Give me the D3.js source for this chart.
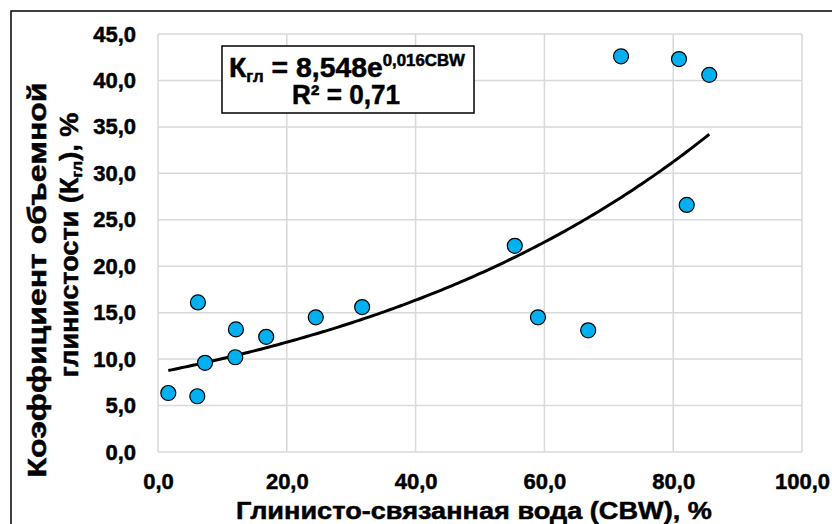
<!DOCTYPE html>
<html>
<head>
<meta charset="utf-8">
<script src="https://cdn.jsdelivr.net/npm/d3@7"></script>
<style>
  body { margin: 0; background: #fff; }
  text { font-family: "Liberation Sans", Arial, sans-serif; font-weight: bold; fill: #000;
         stroke: #000; stroke-width: 0.5px; }
</style>
</head>
<body>
<div id="chart"></div>
<script>
// data
var cbw  = [1.6, 6.2, 6.1, 7.3, 12.1, 12.0, 16.8, 24.5, 31.7, 55.4, 59.0, 66.8, 71.9, 80.9, 85.6, 82.1];
var kgl  = [6.35, 16.1, 6.0, 9.6, 13.2, 10.2, 12.4, 14.5, 15.6, 22.2, 14.5, 13.1, 42.6, 42.3, 40.6, 26.6];
var xTicks = [0, 20, 40, 60, 80, 100];
var yTicks = [0, 5, 10, 15, 20, 25, 30, 35, 40, 45];
// trendline from the equation on the chart
var fitA = 8.548, fitB = 0.0162;
var fitRange = [1.6, 85.6];

var W = 832, H = 524;
var margin = {left: 158, right: 30, top: 34, bottom: 72};

var svg = d3.select("#chart").append("svg")
    .attr("width", W).attr("height", H);

// stretch a text along its own direction so it spans "len" px
function fit_len(sel, len, base) {
  var w = sel.node().getBBox().width;
  sel.attr("transform", base + " scale(" + (len / w) + ",1)");
}

// outer frame (cut off on the right and bottom)
svg.append("rect")
  .attr("x", 11).attr("y", 11).attr("width", 1000).attr("height", 1000)
  .style("fill", "none").style("stroke", "#000").style("stroke-width", 1.5);

var x = d3.scaleLinear().domain([0, 100]).range([margin.left, W - margin.right]);
var y = d3.scaleLinear().domain([0, 45]).range([H - margin.bottom, margin.top]);

// grid
svg.selectAll(".gx").data(xTicks).enter().append("line").attr("class", "gx")
  .attr("x1", d => x(d)).attr("x2", d => x(d))
  .attr("y1", y(0)).attr("y2", y(45))
  .style("stroke", "#d9d9d9").style("stroke-width", 1.5);
svg.selectAll(".gy").data(yTicks).enter().append("line").attr("class", "gy")
  .attr("x1", x(0)).attr("x2", x(100))
  .attr("y1", d => y(d)).attr("y2", d => y(d))
  .style("stroke", "#d9d9d9").style("stroke-width", 1.5);

var fmt = d => d.toFixed(1).replace(".", ",");

// axes
var xAxis = d3.axisBottom(x).tickValues(xTicks).tickFormat(fmt).tickSize(0).tickPadding(21);
var gx = svg.append("g").attr("transform", "translate(0," + y(0) + ")").call(xAxis);
gx.select(".domain").remove();
gx.selectAll("text").style("font-size", "22px").style("font-family", null);

var yAxis = d3.axisLeft(y).tickValues(yTicks).tickFormat(fmt).tickSize(0).tickPadding(22);
var gy = svg.append("g").attr("transform", "translate(" + x(0) + ",0)").call(yAxis);
gy.select(".domain").remove();
gy.selectAll("text").style("font-size", "22px").style("font-family", null);

// trendline
var fitPts = d3.range(fitRange[0], fitRange[1] + 0.01, 0.5).map(v => [v, fitA * Math.exp(fitB * v)]);
fitPts.push([fitRange[1], fitA * Math.exp(fitB * fitRange[1])]);
svg.append("path")
  .attr("d", d3.line().x(d => x(d[0])).y(d => y(d[1]))(fitPts))
  .style("fill", "none").style("stroke", "#000").style("stroke-width", 3);

// points
svg.selectAll(".pt").data(cbw).enter().append("circle").attr("class", "pt")
  .attr("cx", d => x(d)).attr("cy", (d, i) => y(kgl[i]))
  .attr("r", 7.5)
  .style("fill", "#00b0f0").style("stroke", "#000").style("stroke-width", 1.2);

// equation box
svg.append("rect")
  .attr("x", 222).attr("y", 46).attr("width", 252).attr("height", 67)
  .style("fill", "#fff").style("stroke", "#000").style("stroke-width", 1.5);

var eq = svg.append("text").attr("text-anchor", "middle").style("font-size", "27px");
eq.append("tspan").text("К");
eq.append("tspan").text("гл").style("font-size", "16px").attr("dy", 5);
eq.append("tspan").text(" = 8,548e").attr("dy", -5);
eq.append("tspan").text("0,016CBW").style("font-size", "16px").attr("dy", -11);
fit_len(eq, 237, "translate(347,77)");

var r2 = svg.append("text").attr("text-anchor", "middle").style("font-size", "27px")
  .text("R² = 0,71");
fit_len(r2, 108, "translate(346,104)");

// axis titles
var xt = svg.append("text").attr("text-anchor", "middle").style("font-size", "24px")
  .text("Глинисто-связанная вода (CBW), %");
fit_len(xt, 476, "translate(474,519)");

var yt1 = svg.append("text").attr("text-anchor", "middle").style("font-size", "25px")
  .text("Коэффициент объемной");
fit_len(yt1, 395, "translate(46,280) rotate(-90)");

var yt2 = svg.append("text").attr("text-anchor", "middle").style("font-size", "25px");
yt2.append("tspan").text("глинистости (К");
yt2.append("tspan").text("гл").style("font-size", "15px").attr("dy", 4);
yt2.append("tspan").text("), %").attr("dy", -4);
fit_len(yt2, 265, "translate(78,245) rotate(-90)");
</script>
</body>
</html>
